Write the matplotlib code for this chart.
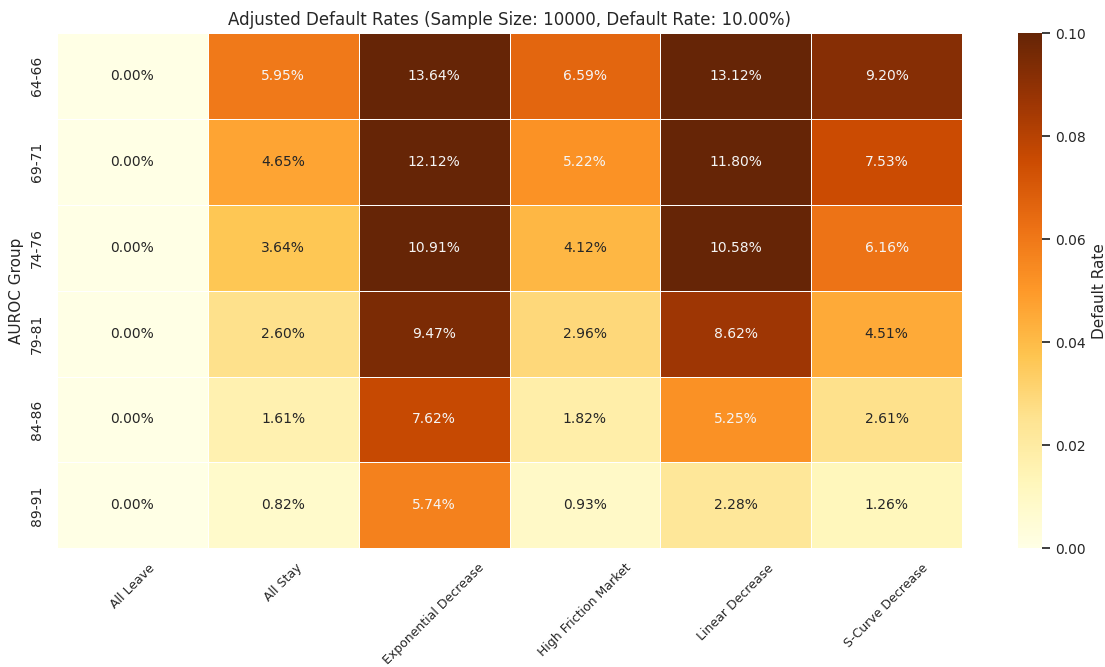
import numpy as np
import matplotlib
matplotlib.use("Agg")
import matplotlib.pyplot as plt
import seaborn as sns

groups = ["64-66", "69-71", "74-76", "79-81", "84-86", "89-91"]
scenarios = ["All Leave", "All Stay", "Exponential Decrease",
             "High Friction Market", "Linear Decrease", "S-Curve Decrease"]

all_leave = [0.0, 0.0, 0.0, 0.0, 0.0, 0.0]
all_stay = [0.0595, 0.0465, 0.0364, 0.0260, 0.0161, 0.0082]
exp_decrease = [0.1364, 0.1212, 0.1091, 0.0947, 0.0762, 0.0574]
high_friction = [0.0659, 0.0522, 0.0412, 0.0296, 0.0182, 0.0093]
linear_decrease = [0.1312, 0.1180, 0.1058, 0.0862, 0.0525, 0.0228]
s_curve = [0.0920, 0.0753, 0.0616, 0.0451, 0.0261, 0.0126]

rates = np.column_stack([all_leave, all_stay, exp_decrease,
                         high_friction, linear_decrease, s_curve])

sns.set_theme(style="white")
plt.rcParams["font.family"] = ["DejaVu Sans"]

fig = plt.figure(figsize=(11.05, 6.67), dpi=100)
ax = fig.add_axes([0.0516, 0.178, 0.819, 0.7725])
cax = fig.add_axes([0.9213, 0.178, 0.0217, 0.7725])

sns.heatmap(rates, ax=ax, cbar_ax=cax, cmap="YlOrBr", vmin=0, vmax=0.1,
            annot=True, fmt=".2%", annot_kws={"fontsize": 10},
            linewidths=0.5, linecolor="white",
            xticklabels=scenarios, yticklabels=groups,
            cbar_kws={"label": "Default Rate"})

# light text on the darker half of the scale
for txt, val in zip(ax.texts, rates.flatten()):
    txt.set_color("#f5f5f5" if val > 0.05 else "#262626")

ax.set_title("Adjusted Default Rates (Sample Size: 10000, Default Rate: 10.00%)",
             fontsize=12)
ax.set_ylabel("AUROC Group", fontsize=11)
ax.set_xticklabels(scenarios, rotation=45, fontsize=9)
ax.set_yticklabels(groups, rotation=90, va="center", fontsize=10)
cax.tick_params(labelsize=10)
cax.set_ylabel("Default Rate", fontsize=11)

fig.savefig("out.png", dpi=100)
